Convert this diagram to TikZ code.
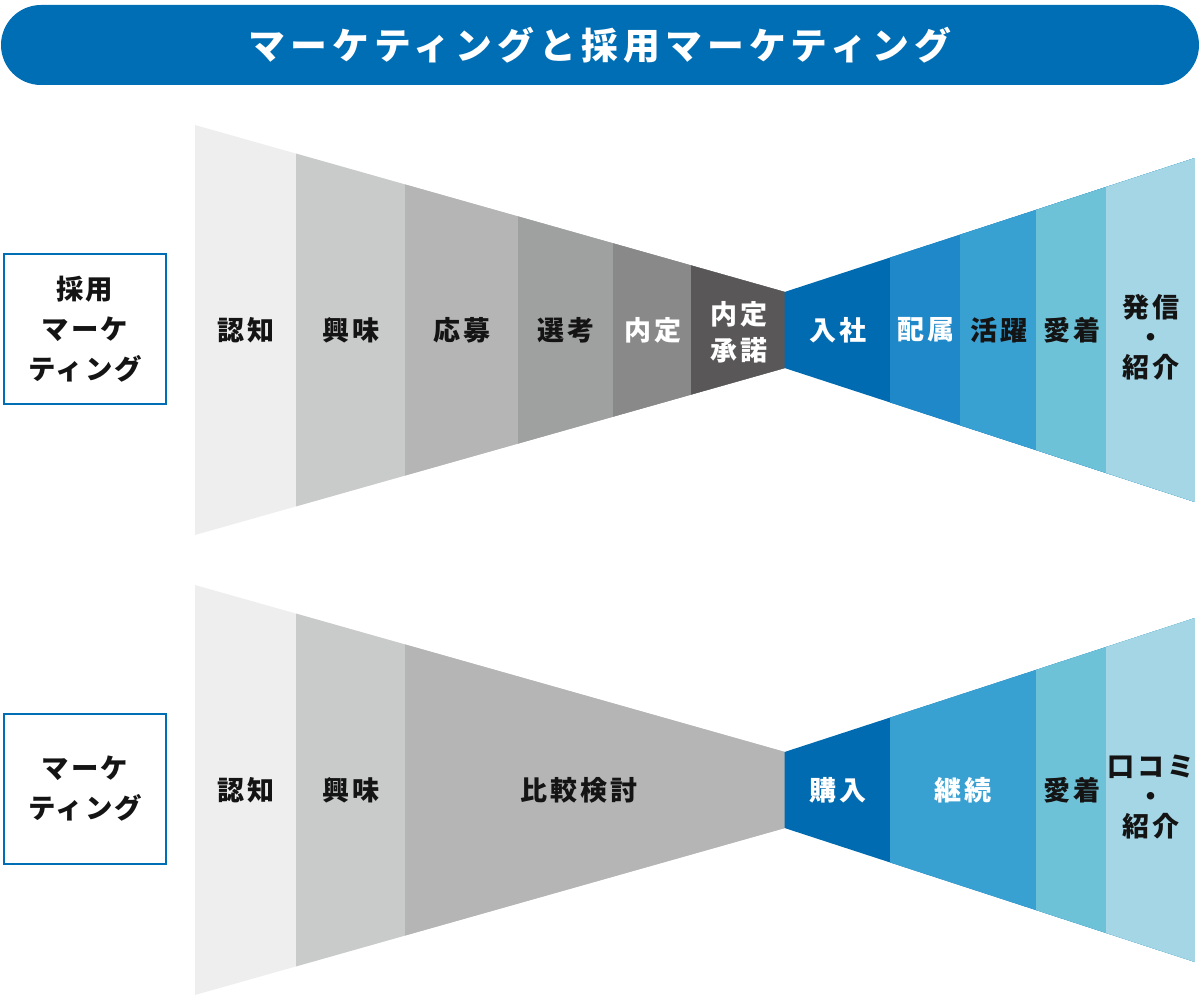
\documentclass[tikz,border=0pt]{standalone}
\usepackage{fontspec}
\setmainfont{Noto Sans CJK JP}
\usepackage{tikz}
\usetikzlibrary{positioning}
\definecolor{mktblue}{RGB}{0,110,180}
\definecolor{grayA}{RGB}{238,238,238}
\definecolor{grayB}{RGB}{201,202,202}
\definecolor{grayC}{RGB}{181,181,182}
\definecolor{grayD}{RGB}{159,160,160}
\definecolor{grayE}{RGB}{137,137,137}
\definecolor{grayF}{RGB}{89,87,87}
\definecolor{blueA}{RGB}{0,107,176}
\definecolor{blueB}{RGB}{30,136,200}
\definecolor{blueC}{RGB}{57,160,210}
\definecolor{blueD}{RGB}{110,194,215}
\definecolor{blueE}{RGB}{165,214,230}
\definecolor{inkdark}{RGB}{20,20,20}

\begin{document}
\begin{tikzpicture}[
    x=0.5pt, y=-0.5pt,
    titlebar/.style={fill=mktblue, rounded corners=20pt, minimum width=599pt,
                     minimum height=40pt, text=white,
                     font=\fontsize{18.4}{20}\selectfont\bfseries\addfontfeature{LetterSpace=14}},
    sidebox/.style={draw=mktblue, line width=1pt, minimum width=81pt, minimum height=75pt,
                    align=center, text=inkdark,
                    font=\fontsize{13.7}{20}\selectfont\bfseries\addfontfeature{LetterSpace=7}},
    stage/.style={align=center, text=inkdark,
                  font=\fontsize{13.5}{15}\selectfont\bfseries\addfontfeature{LetterSpace=12}},
    wstage/.style={stage, text=white},
]
    \useasboundingbox (0,0) rectangle (1200,1000);

    \node[titlebar] (title) at (600,45) {マーケティングと採用マーケティング};

    % side labels
    \node[sidebox] (recruit) at (85,329) {採用\\マーケ\\ティング};
    \node[sidebox] (market) at (85,789) {マーケ\\ティング};

    % recruiting funnel, left half
    \begin{scope}
        \clip (195,125) -- (785,292) -- (785,368) -- (195,535) -- cycle;
        \fill[grayA] (195,100) rectangle (785,560);
        \fill[grayB] (296,100) rectangle (785,560);
        \fill[grayC] (405,100) rectangle (785,560);
        \fill[grayD] (518,100) rectangle (785,560);
        \fill[grayE] (613,100) rectangle (785,560);
        \fill[grayF] (691,100) rectangle (785,560);
    \end{scope}
    % recruiting funnel, right half
    \begin{scope}
        \clip (784.5,292) -- (1195,158) -- (1195,502) -- (784.5,368) -- cycle;
        \fill[blueA] (784,100) rectangle (1195,560);
        \fill[blueB] (890,100) rectangle (1195,560);
        \fill[blueC] (960,100) rectangle (1195,560);
        \fill[blueD] (1036,100) rectangle (1195,560);
        \fill[blueE] (1106,100) rectangle (1195,560);
    \end{scope}

    \node[stage] (r-aware) at (246,330) {認知};
    \node[stage] (r-interest) at (351,330) {興味};
    \node[stage] (r-apply) at (462,330) {応募};
    \node[stage] (r-select) at (566,330) {選考};
    \node[wstage] (r-offer) at (653,330) {内定};
    \node[wstage, font=\fontsize{13.5}{18}\selectfont\bfseries\addfontfeature{LetterSpace=12}]
        (r-accept) at (739,332) {内定\\承諾};
    \node[wstage] (r-join) at (838,330) {入社};
    \node[wstage] (r-assign) at (926,330) {配属};
    \node[stage] (r-active) at (999,330) {活躍};
    \node[stage] (r-loyal) at (1072,330) {愛着};
    \node[stage] (r-share) at (1151,337) {発信\\・\\紹介};

    % marketing funnel
    \begin{scope}[shift={(0,460)}]
        \begin{scope}
            \clip (195,125) -- (785,292) -- (785,368) -- (195,535) -- cycle;
            \fill[grayA] (195,100) rectangle (785,560);
            \fill[grayB] (296,100) rectangle (785,560);
            \fill[grayC] (405,100) rectangle (785,560);
        \end{scope}
        \begin{scope}
            \clip (784.5,292) -- (1195,158) -- (1195,502) -- (784.5,368) -- cycle;
            \fill[blueA] (784,100) rectangle (1195,560);
            \fill[blueC] (890,100) rectangle (1195,560);
            \fill[blueD] (1036,100) rectangle (1195,560);
            \fill[blueE] (1106,100) rectangle (1195,560);
        \end{scope}

        \node[stage] (m-aware) at (246,330) {認知};
        \node[stage] (m-interest) at (351,330) {興味};
        \node[stage] (m-compare) at (579,330) {比較検討};
        \node[wstage] (m-buy) at (838,330) {購入};
        \node[wstage] (m-repeat) at (963,330) {継続};
        \node[stage] (m-loyal) at (1072,330) {愛着};
        \node[stage] (m-word) at (1151,337) {口コミ\\・\\紹介};
    \end{scope}
\end{tikzpicture}
\end{document}
